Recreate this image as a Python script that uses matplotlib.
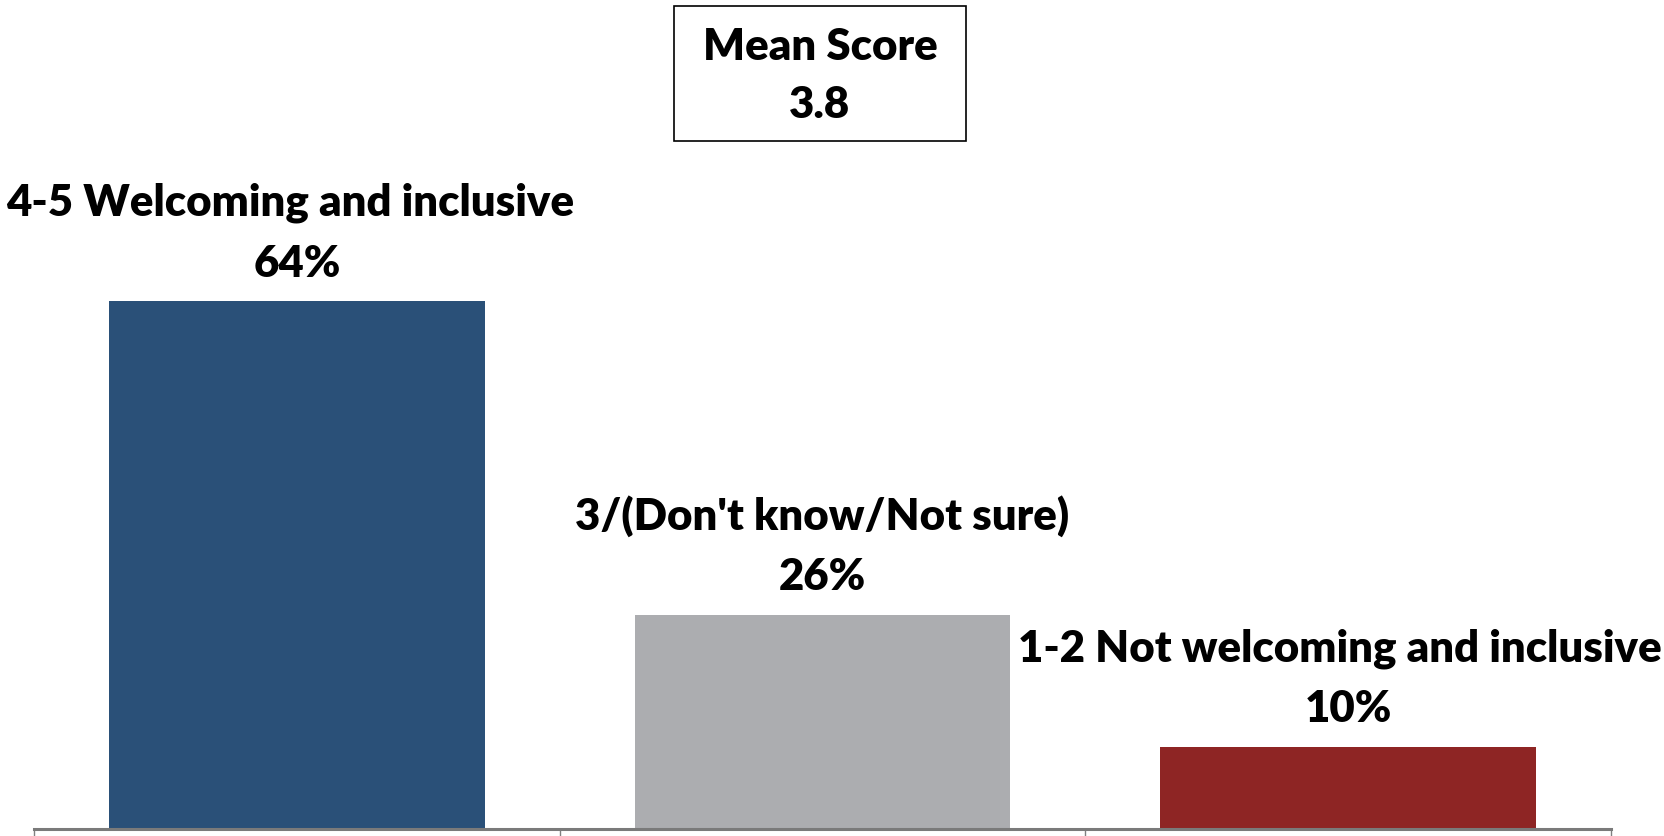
import matplotlib
matplotlib.use("Agg")
import matplotlib.pyplot as plt
from matplotlib.patches import Rectangle

# Survey results
categories = ["4-5 Welcoming and inclusive", "3/(Don't know/Not sure)", "1-2 Not welcoming and inclusive"]
values = [64, 26, 10]
colors = ["#2A5078", "#ACADB0", "#8E2524"]
mean_score = 3.8

W, H, DPI = 1664, 837, 100
FS = 31.5
WEIGHT = "heavy"
plt.rcParams["font.family"] = ["Lato", "DejaVu Sans"]
fig = plt.figure(figsize=(W / DPI, H / DPI), dpi=DPI)

ax_left, ax_right, ax_bottom, ax_top = 34, 1611, 7, 832
ax = fig.add_axes([ax_left / W, ax_bottom / H, (ax_right - ax_left) / W, (ax_top - ax_bottom) / H])

x = list(range(len(categories)))
ax.bar(x, values, width=0.715, color=colors, zorder=2)
ax.set_xlim(-0.5, len(categories) - 0.5)
ax.set_ylim(0, 100)

for s in ("top", "left", "right"):
    ax.spines[s].set_visible(False)
ax.spines["bottom"].set_color("#7A7A7A")
ax.spines["bottom"].set_linewidth(2.2)
ax.spines["bottom"].set_zorder(3)
ax.set_xticks([i - 0.5 for i in range(len(categories) + 1)])
ax.tick_params(axis="x", direction="out", length=6, width=1.0, color="#808080", labelbottom=False)
ax.set_yticks([])

label_shift = [-7, 0, -8]
for i, (cat, v) in enumerate(zip(categories, values)):
    ax.annotate(f"{v}%", xy=(i, v), xytext=(0, 38), textcoords="offset pixels",
                ha="center", va="center", fontsize=FS, fontweight=WEIGHT, color="black")
    ax.annotate(cat, xy=(i, v), xytext=(label_shift[i], 99), textcoords="offset pixels",
                ha="center", va="center", fontsize=FS, fontweight=WEIGHT, color="black")

# Mean score box
bx0, bx1, by0, by1 = 674, 966, 7, 142
fig.patches.append(Rectangle((bx0 / W, 1 - by1 / H), (bx1 - bx0) / W, (by1 - by0) / H,
                             transform=fig.transFigure, fill=False, edgecolor="black", linewidth=1.2))
cx = (bx0 + bx1) / 2 / W
fig.text(cx, 1 - 47 / H, "Mean Score", ha="center", va="center", fontsize=FS, fontweight=WEIGHT)
fig.text(cx, 1 - 105 / H, f"{mean_score}", ha="center", va="center", fontsize=FS, fontweight=WEIGHT)

fig.savefig("out.png", dpi=DPI, facecolor="white")
